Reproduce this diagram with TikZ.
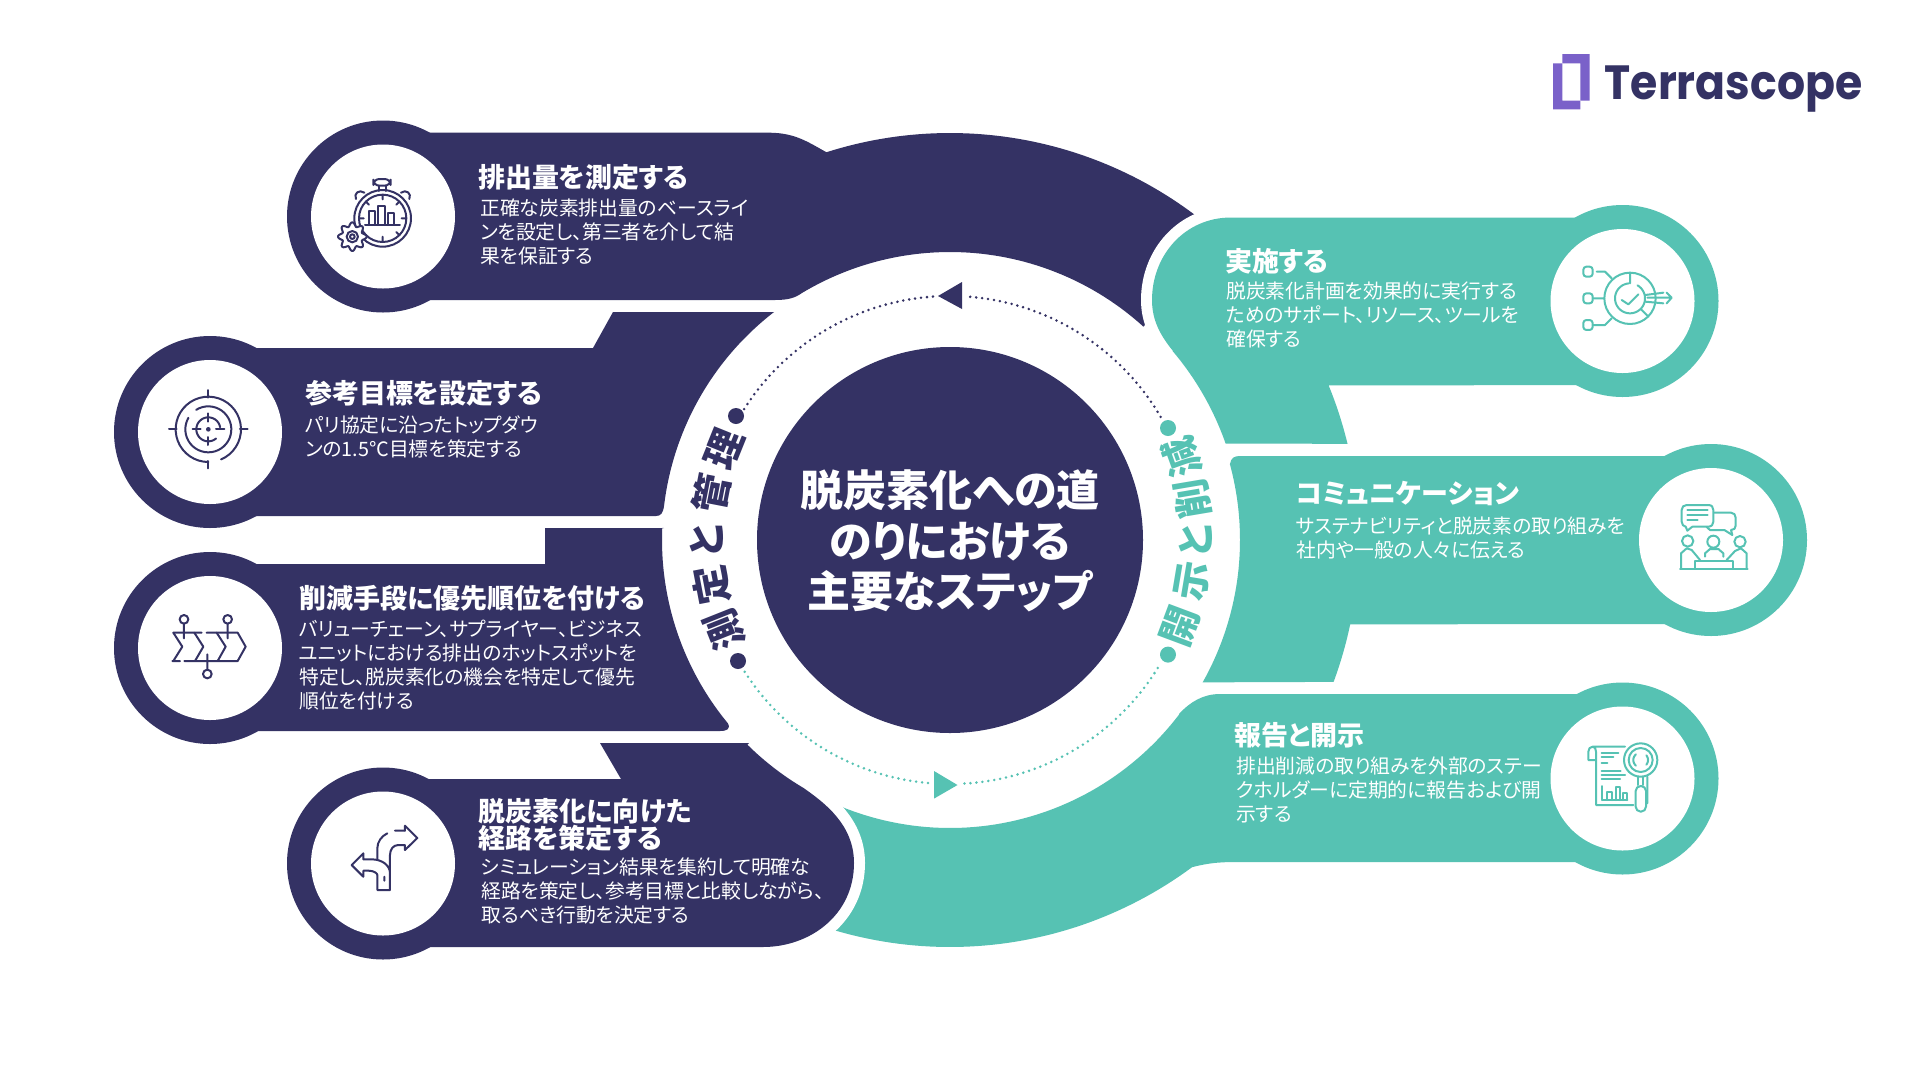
\documentclass[tikz,border=0pt]{standalone}
\usepackage{fontspec}
\usepackage{graphicx}
\newfontfamily\jp[RawFeature=+palt]{Noto Sans CJK JP}
\newfontfamily\jpt[RawFeature=+palt]{Noto Sans CJK JP Black}
\newfontfamily\jpb{Noto Sans CJK JP Black}
\newfontfamily\logofont{Poppins}
\definecolor{navy}{RGB}{52,50,100}
\definecolor{teal2}{RGB}{86,194,179}
\definecolor{logop}{RGB}{122,97,201}
\newcommand\arcto[3]{-- plot[domain=#2:#3,samples=60,variable=\t]({950+#1*cos(\t)},{540-#1*sin(\t)})}
\newcommand\iarc[5]{\draw[ic] plot[domain=#4:#5,samples=40,variable=\t]({#1+#3*cos(\t)},{#2-#3*sin(\t)});}
\tikzset{
  ic/.style={line width=2pt,line cap=round,line join=round},
  titletext/.style={font=\jpt\fontsize{27}{26}\selectfont,align=left,anchor=west,text=white,inner sep=0pt},
  bodytext/.style={font=\jp\fontsize{19.8}{24}\selectfont,align=left,anchor=west,text=white,inner sep=0pt},
  ringdot/.style={dash pattern=on 0pt off 6pt,line cap=round,line width=2.8pt},
  ringchar/.style={font=\jpb\fontsize{39}{39}\selectfont,inner sep=0pt},
  halo/.style={preaction={draw=white,line width=22pt,line join=round}},
}
\begin{document}
\begin{tikzpicture}[x=1pt,y=-1pt]
\useasboundingbox (0,0) rectangle (1920,1080);
\fill[white] (0,0) rectangle (1920,1080);
% --- dark top band with arc
\fill[navy] (383,132.7) -- (770,132.7) .. controls (795,133) and (808,142) .. (826,152)
  \arcto{407}{107.7}{48} \arcto{288}{47.8}{120.9} .. controls (795,298) and (788,300) .. (775,300) -- (383,300) -- cycle;
\fill[navy] (383,216.5) circle (96);
% --- teal 1 with halo
\fill[teal2,halo] (1622,217.5) -- (1231,217.5) .. controls (1185,217.5) and (1152,255) .. (1152,300)
  .. controls (1152,320) and (1160,335) .. (1173,351) \arcto{292}{40.3}{19.3} \arcto{409}{13.6}{22.2} -- (1622,385) -- cycle;
\fill[teal2] (1622.5,301) circle (96);
% --- teal 2
\fill[teal2] (1711,456) -- (1240,456) .. controls (1234,456) and (1231,458) .. (1230,464)
  \arcto{290}{15.2}{-29.4} \arcto{409}{-20.3}{-11.9} -- (1711,624) -- cycle;
\fill[teal2] (1711,540) circle (96);
% --- teal 3 with bottom arc
\fill[teal2] (1622,694) -- (1220,694) .. controls (1203,694) and (1190,702) .. (1179,714)
  \arcto{288}{-37.2}{-118} \arcto{407}{-118}{-53.5} .. controls (1212,862) and (1225,862) .. (1240,862) -- (1622,862) -- cycle;
\fill[teal2] (1622.5,778.5) circle (96);
% --- dark 2
\fill[navy] (210,348) -- (593,348) -- (613,312) -- (774,312) \arcto{288}{127.7}{173.2}
  .. controls (663,513) and (661,516) .. (656,516) -- (210,516) -- cycle;
\fill[navy] (210,432) circle (96);
% --- dark 3
\fill[navy] (210,564) -- (545,564) -- (545,528) -- (664,528) \arcto{288}{177.6}{219.5}
  .. controls (731,729) and (727,731) .. (720,731) -- (210,731) -- cycle;
\fill[navy] (210,648) circle (96);
% --- dark 4 with halo
\fill[navy,halo] (383,779) -- (621,779) -- (600,743) -- (749,743) \arcto{288}{225.3}{239.4}
  .. controls (825,803) and (854,825) .. (854,863) .. controls (854,915) and (810,947) .. (763,947) -- (383,947) -- cycle;
\fill[navy] (383,863.5) circle (96);
% --- white icon discs
\foreach \cx/\cy in {383/216.5,210/432,210/648,383/863.5,1622.5/301,1711/540,1622.5/778.5}
  \fill[white] (\cx,\cy) circle (72);
% --- centre disc
\fill[navy] (950,540) circle (193);
\node[font=\jpt\fontsize{43}{50.5}\selectfont,text=white,align=center,inner sep=0pt] (centre) at (950,541) {脱炭素化への道\\のりにおける\\主要なステップ};
% --- ring
\draw[ringdot,navy] plot[domain=30.3:85.6,samples=80,variable=\t]({950+244*cos(\t)},{540-244*sin(\t)});
\draw[ringdot,navy] plot[domain=94:147.6,samples=80,variable=\t]({950+244*cos(\t)},{540-244*sin(\t)});
\draw[ringdot,teal2] plot[domain=212.7:265.3,samples=80,variable=\t]({950+244*cos(\t)},{540-244*sin(\t)});
\draw[ringdot,teal2] plot[domain=273.4:329,samples=80,variable=\t]({950+244*cos(\t)},{540-244*sin(\t)});
\fill[navy] (938,296) -- (962,282) -- (962,309) -- cycle;
\fill[teal2] (957.5,785) -- (934,771) -- (934,798.6) -- cycle;
\fill[navy] (736,416) circle (8) (738,661) circle (8);
\fill[teal2] (1168,428) circle (8) (1168,654.6) circle (8);
\foreach \a/\c/\n in {201.7/測/la,190.8/定/lb,180/と/lc,169/管/ld,158/理/le}
  \node[ringchar,text=navy,rotate=\a-90] (\n) at ({950+243*cos(\a)},{540-243*sin(\a)}) {\c};
\foreach \a/\c/\n in {-20.5/開/ra,-9.5/示/rb,0/と/rc,9.6/削/rd,19.8/減/re}
  \node[ringchar,text=teal2,rotate=\a+90] (\n) at ({950+246*cos(\a)},{540-246*sin(\a)}) {\c};
% --- texts
\node[titletext] (t1) at (478,177) {排出量を測定する};
\node[bodytext] (b1) at (480,232) {正確な炭素排出量のベースライ\\ンを設定し、第三者を介して結\\果を保証する};
\node[titletext] (t2) at (305,393) {参考目標を設定する};
\node[bodytext] (b2) at (305,437) {パリ協定に沿ったトップダウ\\ンの1.5℃目標を策定する};
\node[titletext] (t3) at (299,598) {削減手段に優先順位を付ける};
\node[bodytext] (b3) at (299,665) {バリューチェーン、サプライヤー、ビジネス\\ユニットにおける排出のホットスポットを\\特定し、脱炭素化の機会を特定して優先\\順位を付ける};
\node[titletext] (t4) at (478.5,825) {脱炭素化に向けた\\経路を策定する};
\node[bodytext] (b4) at (481,891) {シミュレーション結果を集約して明確な\\経路を策定し、参考目標と比較しながら、\\取るべき行動を決定する};
\node[titletext] (t5) at (1225,261) {実施する};
\node[bodytext] (b5) at (1226,314.6) {脱炭素化計画を効果的に実行する\\ためのサポート、リソース、ツールを\\確保する};
\node[titletext] (t6) at (1296,493.6) {コミュニケーション};
\node[bodytext] (b6) at (1296,537.7) {サステナビリティと脱炭素の取り組みを\\社内や一般の人々に伝える};
\node[titletext] (t7) at (1234,735) {報告と開示};
\node[bodytext] (b7) at (1236,790) {排出削減の取り組みを外部のステー\\クホルダーに定期的に報告および開\\示する};
% --- logo
\fill[logop] (1562.3,54) -- (1589.7,54) -- (1589.7,100.7) -- (1580.3,100.7) -- (1580.3,63.3) -- (1562.3,63.3) -- cycle;
\fill[logop] (1553,63.3) -- (1562.3,63.3) -- (1562.3,100.7) -- (1580.3,100.7) -- (1580.3,109.3) -- (1553,109.3) -- cycle;
\node[font=\logofont\bfseries\fontsize{48}{48}\selectfont,text=navy,anchor=base west,inner sep=0pt] (logo) at (1604.5,99) {\scalebox{0.92}[1]{Terrascope}};
% --- icon 1 stopwatch
\begin{scope}[shift={(330,165)},scale=0.3333,color=navy]
\draw[ic] (158,160) circle (85) (158,160) circle (71);
\draw[ic,rounded corners=6pt] (130,42) rectangle (182,62);
\draw[ic] (147,62) -- (147,78) (168,62) -- (168,78);
\draw[ic] (78,102) .. controls (70,85) and (88,72) .. (103,83);
\draw[ic] (238,102) .. controls (246,85) and (228,72) .. (213,83);
\draw[ic] (158,90) -- (158,103) (158,215) -- (158,230) (88,160) -- (101,160) (215,160) -- (228,160) (108,110) -- (117,119) (208,110) -- (199,119) (208,210) -- (199,201);
\draw[ic] (118,178) -- (118,138) -- (135,138) -- (135,178) (145,178) -- (145,122) -- (165,122) -- (165,178) (175,178) -- (175,145) -- (192,145) -- (192,178);
\draw[ic] (105,180) -- (210,180);
\draw[ic,fill=white] plot[domain=0:360,samples=120,smooth,variable=\t]({67+(37+6*cos(8*\t))*cos(\t)},{215-(37+6*cos(8*\t))*sin(\t)}) -- cycle;
\draw[ic] (67,215) circle (17) (67,215) circle (7);
\end{scope}
% --- icon 2 target
\begin{scope}[shift={(155,375)},scale=0.3333,color=navy]
\draw[ic] (160,45) -- (160,68) (42,163) -- (65,163) (255,163) -- (278,163) (160,258) -- (160,280);
\iarc{160}{163}{98}{-67}{270}
\iarc{160}{163}{69}{122}{-210}
\iarc{160}{163}{36}{-50}{-350}
\draw[ic] (160,115) -- (160,140) (160,186) -- (160,210) (113,163) -- (137,163) (183,163) -- (208,163);
\fill (160,163) circle (7);
\end{scope}
% --- icon 3 chevrons
\begin{scope}[shift={(155,595)},scale=0.3333,color=navy]
\draw[ic] (55,113) -- (140,113) (155,113) -- (248,113) -- (272,155) -- (248,198) -- (88,198) (52,198) -- (75,198);
\draw[ic] (55,113) -- (82,155) -- (55,198) (118,113) -- (145,155) -- (120,198) (185,113) -- (212,155) -- (188,198);
\draw[ic] (87,73) circle (13) (87,86) -- (87,130) (218,73) circle (13) (218,86) -- (218,130) (157,237) circle (13) (157,224) -- (157,178);
\end{scope}
% --- icon 4 arrows
\begin{scope}[shift={(330,810)},scale=0.3333,color=navy]
\draw[ic] (225,62) -- (225,47) -- (262,84) -- (225,120) -- (225,105) -- (205,105) .. controls (190,105) and (180,118) .. (180,135) -- (180,240) -- (142,240) -- (142,195) .. controls (142,190) and (132,182) .. (115,182) -- (100,182) -- (100,200) -- (65,165) -- (100,130) -- (100,148) -- (125,148) .. controls (155,148) and (180,165) .. (180,190);
\draw[ic] (225,62) -- (195,62) (172,70) .. controls (155,78) and (142,95) .. (142,115) -- (142,148) (163,200) -- (163,212);
\end{scope}
% --- icon 5 process
\begin{scope}[shift={(1570,245)},scale=0.3333,color=teal2]
\draw[ic] (180,160) circle (77);
\iarc{180}{160}{45}{60}{-265}
\draw[ic] (180,84) -- (180,115) (213,193) -- (235,215);
\draw[ic] (155,165) -- (175,178) -- (205,148);
\draw[ic] (226,150) -- (280,143) (226,170) -- (280,175) (232,158) -- (303,158) (290,143) -- (305,158) -- (290,175);
\draw[ic,rounded corners=3pt] (40,65) rectangle (68,95) (40,145) rectangle (68,175) (40,225) rectangle (68,255);
\draw[ic] (80,80) -- (105,80) -- (125,100) (70,160) -- (103,160) (70,240) -- (105,240) -- (125,220);
\end{scope}
% --- icon 6 meeting
\begin{scope}[shift={(1655,485)},scale=0.3333,color=teal2]
\draw[ic] (112,125) -- (160,125) .. controls (170,125) and (175,118) .. (175,110) -- (175,75) .. controls (175,66) and (170,60) .. (160,60) -- (95,60) .. controls (86,60) and (80,66) .. (80,75) -- (80,110) .. controls (80,118) and (86,125) .. (92,125) -- (97,137) -- (112,125);
\draw[ic] (97,75) -- (158,75) (97,90) -- (158,90) (97,106) -- (128,106);
\draw[ic] (178,83) -- (228,83) .. controls (237,83) and (242,90) .. (242,98) -- (242,122) .. controls (242,130) and (237,135) .. (228,135) -- (232,150) -- (208,135) -- (165,135) -- (155,126);
\draw[ic] (98,168) circle (17) (175,170) circle (18) (255,170) circle (17);
\draw[ic] (78,250) -- (78,205) -- (95,190) -- (110,195) -- (135,225);
\draw[ic] (275,250) -- (275,205) -- (258,190) -- (240,198) -- (215,225);
\draw[ic] (150,215) -- (150,205) -- (165,192) -- (190,192) -- (205,205) -- (205,215);
\draw[ic] (120,250) -- (120,228) -- (235,228) -- (235,250) (75,252) -- (278,252);
\end{scope}
% --- icon 7 report
\begin{scope}[shift={(1570,725)},scale=0.3333,color=teal2]
\draw[ic] (165,65) -- (68,65) .. controls (60,65) and (55,72) .. (55,80) -- (55,105) -- (76,105) (68,65) .. controls (75,65) and (78,72) .. (78,80) -- (78,240) -- (190,240) (232,155) -- (232,235);
\draw[ic] (95,83) -- (145,83) (95,97) -- (130,97) (95,115) -- (112,115) (95,138) -- (152,138) (95,150) -- (165,150) (95,162) -- (150,162);
\draw[ic] (97,225) -- (97,183) (110,225) -- (110,200) -- (125,200) -- (125,225) (137,225) -- (137,185) -- (150,185) -- (150,225) (160,225) -- (160,205) -- (172,205) -- (172,225) (172,225) -- (97,225);
\draw[ic,fill=white] (212,105) circle (50);
\draw[ic] (212,105) circle (36);
\iarc{212}{105}{22}{130}{230}
\iarc{212}{105}{22}{-40}{40}
\draw[ic] (205,155) -- (205,180) (220,155) -- (220,180);
\draw[ic,fill=white,rounded corners=5pt] (197,183) rectangle (228,260);
\end{scope}
\end{tikzpicture}
\end{document}
